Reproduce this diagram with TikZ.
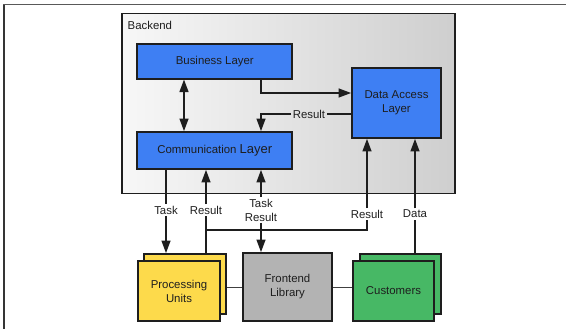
\documentclass[tikz,border=0pt]{standalone}
\usepackage{fontspec}
\setmainfont{Liberation Sans}
\usetikzlibrary{arrows.meta}

\definecolor{layerblue}{HTML}{3E7FF3}
\definecolor{unityellow}{HTML}{FDDA4B}
\definecolor{libgray}{HTML}{B3B3B3}
\definecolor{custgreen}{HTML}{47B865}
\definecolor{ink}{HTML}{1E1E1E}

\tikzset{
  basefont/.style={font=\fontsize{11.4}{14}\selectfont, text=ink},
  box/.style={draw=ink, line width=1.8pt, basefont, align=center, inner sep=2pt},
  layer/.style={box, fill=layerblue},
  units/.style={box, fill=unityellow, minimum width=82pt, minimum height=60pt},
  library/.style={box, fill=libgray, minimum width=89pt, minimum height=68pt},
  clients/.style={box, fill=custgreen, minimum width=81pt, minimum height=60pt},
  backendbox/.style={draw=ink, line width=1.5pt, left color=gray!6, right color=gray!38},
  conn/.style={draw=ink, line width=1.3pt},
  link/.style={draw=ink!85, line width=1pt},
  arr/.style={conn, -{Triangle[length=12.5pt,width=9pt]}},
  darr/.style={conn, {Triangle[length=12.5pt,width=9pt]}-{Triangle[length=12.5pt,width=9pt]}},
  lbl/.style={basefont, inner sep=1.5pt, align=center},
}

\begin{document}
\begin{tikzpicture}[x=1pt,y=-1pt]
\useasboundingbox (0,0) rectangle (566,329);

% page frame (top and left edges)
\draw[gray!70!black, line width=1.3pt] (3.3,4.7) -- (566,4.7);
\draw[ink!90, line width=1.5pt] (4,4.7) -- (4,329);

% backend container
\node[backendbox, minimum width=333pt, minimum height=180pt, anchor=north west] (backend) at (121,13) {};
\node[basefont, anchor=west, inner sep=0pt] (backendlbl) at (127.5,25) {Backend};

% backend layers
\node[layer, minimum width=155pt, minimum height=34.7pt] (bus) at (214.8,61.3) {Business Layer};
\node[layer, minimum width=155pt, minimum height=37pt] (comm) at (214.8,150.5)
  {Communication {\fontsize{13}{14}\selectfont Layer}};
\node[layer, minimum width=89pt, minimum height=70pt] (dal) at (396.5,103) {Data Access\\Layer};

% bottom row
\node[units] (procback) at (185,284) {};
\node[units] (procfront) at (179,291) {Processing\\Units};
\node[library] (front) at (287.5,287) {Frontend\\Library};
\node[clients] (custback) at (400.5,284) {};
\node[clients] (custfront) at (393.5,291) {Customers};

% routing coordinates
\coordinate (xdbl) at (184,0);
\coordinate (bd) at (261,93);
\coordinate (xres) at (261,0);
\coordinate (jl) at (206,230);
\coordinate (jr) at (367,230);

% connectors inside the backend
\draw[darr] (bus.south -| xdbl) -- (comm.north -| xdbl);
\draw[arr] (bus.south -| bd) -- (bd) -- (dal.west |- bd);
\node[lbl] (reslbl) at (309,114) {Result};
\draw[conn] (dal.west |- reslbl) -- (reslbl.east);
\draw[arr] (reslbl.west) -- (reslbl.west -| xres) -- (comm.north -| xres);

% labels on the vertical connectors
\node[lbl] (tasklbl) at (166,210) {Task};
\node[lbl] (res1lbl) at (206,210) {Result};
\node[lbl] (trlbl) at (261,210) {Task\\Result};
\node[lbl] (res2lbl) at (367,214) {Result};
\node[lbl] (datalbl) at (415,214) {Data};

% task dispatch and results
\draw[conn] (comm.south -| tasklbl) -- (tasklbl.north);
\draw[arr] (tasklbl.south) -- (procback.north -| tasklbl);
\draw[conn] (procback.north -| res1lbl) -- (res1lbl.south);
\draw[arr] (res1lbl.north) -- (comm.south -| res1lbl);
\draw[conn] (jl) -- (jr) -- (res2lbl.south);
\draw[arr] (res2lbl.north) -- (dal.south -| res2lbl);
\draw[arr] (trlbl.north) -- (comm.south -| trlbl);
\draw[arr] (trlbl.south) -- (front.north -| trlbl);
\draw[conn] (custback.north -| datalbl) -- (datalbl.south);
\draw[arr] (datalbl.north) -- (dal.south -| datalbl);

% links between the bottom blocks
\draw[link] (procback.east |- front) -- (front.west);
\draw[link] (front.east) -- (custfront.west |- front);
\end{tikzpicture}
\end{document}
